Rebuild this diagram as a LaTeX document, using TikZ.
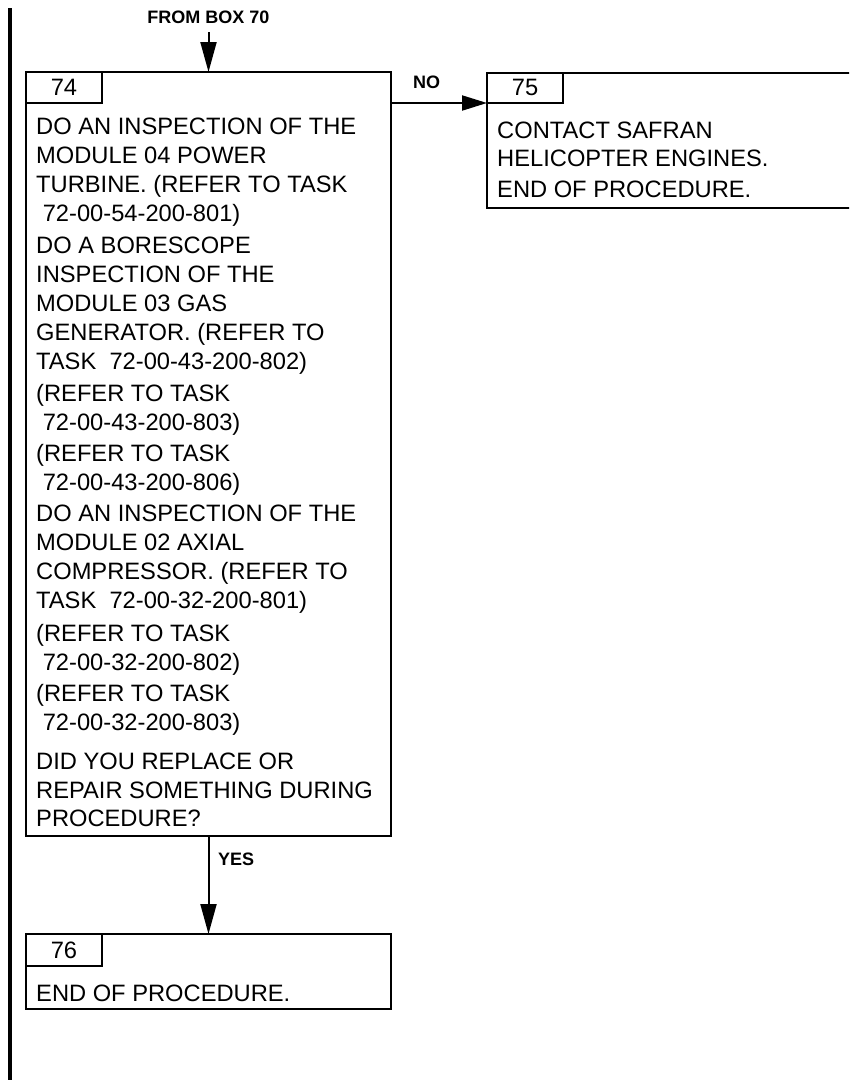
\documentclass[tikz,border=0pt]{standalone}
\usepackage{fontspec}
\setmainfont{Liberation Sans}
\usetikzlibrary{arrows.meta}
\begin{document}
\begin{tikzpicture}[x=1pt,y=-1pt,
  boxnode/.style={draw, line width=2pt, rectangle, inner sep=0pt, outer sep=0pt, anchor=north west},
  txt/.style={anchor=base west, inner sep=0pt, align=left, font=\fontsize{23.7}{29}\selectfont},
  numtxt/.style={anchor=base, inner sep=0pt, font=\fontsize{23.7}{29}\selectfont},
  lbl/.style={inner sep=0pt, font=\bfseries\fontsize{18}{21}\selectfont},
  arr/.style={line width=2pt, -{Triangle[length=30pt,width=16pt]}},
  arrs/.style={line width=2pt, -{Triangle[length=25pt,width=15pt]}}]
\useasboundingbox (0,0) rectangle (849,1090);
\clip (0,0) rectangle (849,1090);

% left margin bar
\draw[line width=4pt] (10,8) -- (10,1080);

% box 74 (text nodes anchored at the baseline of their last line)
\node[boxnode, minimum width=365pt, minimum height=763.5pt] (b74) at (26,72) {};
\node[boxnode, minimum width=76pt, minimum height=31pt] (t74) at (26,72) {};
\node[numtxt] (n74) at (64,95) {74};
\node[txt] (p1) at (36,221) {DO AN INSPECTION OF THE\\MODULE 04 POWER\\TURBINE. (REFER TO TASK\\\hspace*{6.6pt}72-00-54-200-801)};
\node[txt] (p2) at (36,369) {DO A BORESCOPE\\INSPECTION OF THE\\MODULE 03 GAS\\GENERATOR. (REFER TO\\TASK\ \ 72-00-43-200-802)};
\node[txt] (p3) at (36,430.5) {(REFER TO TASK\\\hspace*{6.6pt}72-00-43-200-803)};
\node[txt] (p4) at (36,490.5) {(REFER TO TASK\\\hspace*{6.6pt}72-00-43-200-806)};
\node[txt] (p5) at (36,608.5) {DO AN INSPECTION OF THE\\MODULE 02 AXIAL\\COMPRESSOR. (REFER TO\\TASK\ \ 72-00-32-200-801)};
\node[txt] (p6) at (36,670.5) {(REFER TO TASK\\\hspace*{6.6pt}72-00-32-200-802)};
\node[txt] (p7) at (36,730.5) {(REFER TO TASK\\\hspace*{6.6pt}72-00-32-200-803)};
\node[txt, font=\fontsize{23.7}{28.4}\selectfont] (p8) at (36,826.7) {DID YOU REPLACE OR\\REPAIR SOMETHING DURING\\PROCEDURE?};

% box 75
\node[boxnode, minimum width=380pt, minimum height=135pt] (b75) at (487,73) {};
\node[boxnode, minimum width=76pt, minimum height=30pt] (t75) at (487,73) {};
\node[numtxt] (n75) at (525,95) {75};
\node[txt, font=\fontsize{23.7}{28}\selectfont] (q1) at (497,166) {CONTACT SAFRAN\\HELICOPTER ENGINES.};
\node[txt] (q2) at (497,197) {END OF PROCEDURE.};

% box 76
\node[boxnode, minimum width=365pt, minimum height=75pt] (b76) at (26,934) {};
\node[boxnode, minimum width=76pt, minimum height=32pt] (t76) at (26,934) {};
\node[numtxt] (n76) at (64,958) {76};
\node[txt] (r1) at (36,1001.5) {END OF PROCEDURE.};

% connectors
\coordinate (from70) at (208.5,32);
\node[lbl, anchor=base] (lfrom) at (208.5,23.3) {FROM BOX 70};
\draw[arr] (from70) -- (b74.north);

\draw[arrs] (b74.east |- t75.south) -- (t75.south west);
\node[lbl, anchor=base west] (lno) at (413,88.3) {NO};

\draw[arr] (b74.south) -- (b76.north);
\node[lbl, anchor=base west] (lyes) at (218,865) {YES};
\end{tikzpicture}
\end{document}
